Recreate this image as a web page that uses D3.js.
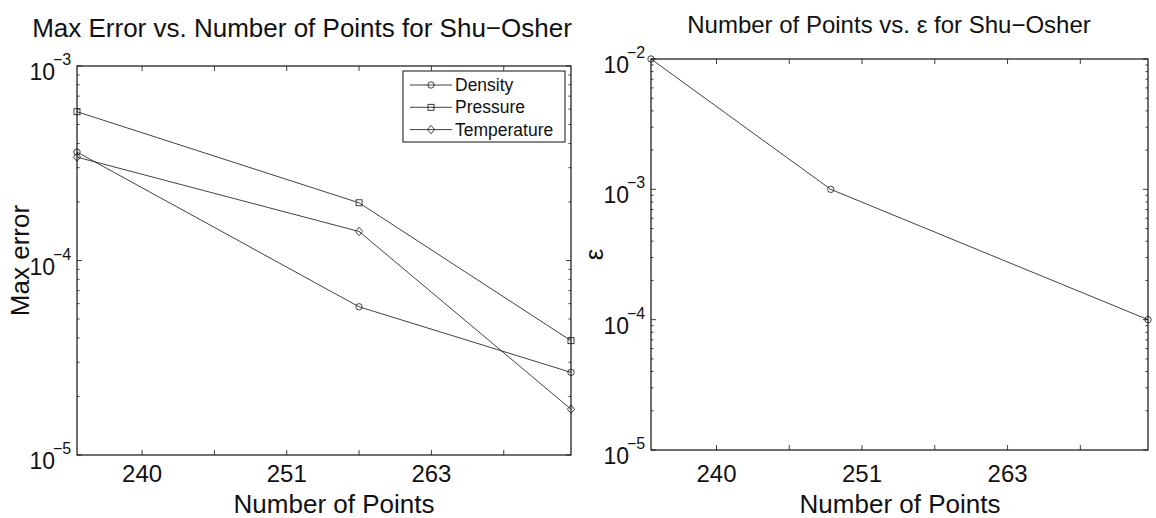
<!DOCTYPE html>
<html>
<head>
<meta charset="utf-8">
<script src="https://cdn.jsdelivr.net/npm/d3@7"></script>
<style>
  body { margin: 0; background: #fff; }
  text { font-family: "Liberation Sans", Arial, Helvetica, sans-serif; fill: #111; }
</style>
</head>
<body>
<svg id="fig" width="1156" height="518"></svg>
<script>
// x positions are tick-slot units; the axis carries custom labels
const tickSlots  = [1, 2, 3, 4, 5, 6];
const tickLabels = ["240", "", "251", "", "263", ""];

// left panel: max error per variable
const errX        = [0.1, 4.0, 6.93];
const density     = [3.61e-4, 5.78e-5, 2.66e-5];
const pressure    = [5.82e-4, 1.98e-4, 3.87e-5];
const temperature = [3.40e-4, 1.41e-4, 1.72e-5];
const seriesNames = ["Density", "Pressure", "Temperature"];
const seriesMarks = ["circle", "square", "diamond"];

// right panel: epsilon per resolution
const epsX    = [0.1, 2.57, 6.93];
const epsilon = [1e-2, 1e-3, 1e-4];

const svg = d3.select("#fig");
const ink = "#111";

function logTicks(lo, hi) {
  const major = [], minor = [];
  for (let e = Math.round(Math.log10(lo)); e <= Math.round(Math.log10(hi)); e++) {
    major.push(e);
    if (Math.pow(10, e) < hi) for (let k = 2; k <= 9; k++) minor.push(k * Math.pow(10, e));
  }
  return { major, minor };
}

function marker(g, kind, x, y) {
  if (kind === "circle") {
    g.append("circle").attr("cx", x).attr("cy", y).attr("r", 3.2)
      .attr("fill", "none").attr("stroke", ink).attr("stroke-width", 0.8);
  } else if (kind === "square") {
    g.append("rect").attr("x", x - 3).attr("y", y - 3).attr("width", 6).attr("height", 6)
      .attr("fill", "none").attr("stroke", ink).attr("stroke-width", 0.8);
  } else {
    g.append("path").attr("d", `M${x},${y - 4.2}L${x + 3.6},${y}L${x},${y + 4.2}L${x - 3.6},${y}Z`)
      .attr("fill", "none").attr("stroke", ink).attr("stroke-width", 0.8);
  }
}

function panel(opt) {
  const { box, yDomain, title, titleSize, titleX, titleY, xlabelX, ylabel, ylabelX, ylabelSize, lines } = opt;
  const g = svg.append("g");
  const x = d3.scaleLinear().domain([0.1, 6.93]).range([box.x0, box.x1]);
  const y = d3.scaleLog().domain(yDomain).range([box.y1, box.y0]);

  // data lines
  lines.forEach(s => {
    const pts = s.x.map((xv, i) => [x(xv), y(s.y[i])]);
    g.append("path").attr("d", d3.line()(pts))
      .attr("fill", "none").attr("stroke", ink).attr("stroke-width", 0.8);
    pts.forEach(p => marker(g, s.mark, p[0], p[1]));
  });

  // box
  g.append("rect").attr("x", box.x0).attr("y", box.y0)
    .attr("width", box.x1 - box.x0).attr("height", box.y1 - box.y0)
    .attr("fill", "none").attr("stroke", ink).attr("stroke-width", 1.2);

  // x ticks (bottom and top, inward)
  const tl = 5;
  tickSlots.forEach((t, i) => {
    const px = x(t);
    g.append("line").attr("x1", px).attr("x2", px).attr("y1", box.y1).attr("y2", box.y1 - tl)
      .attr("stroke", ink).attr("stroke-width", 0.8);
    g.append("line").attr("x1", px).attr("x2", px).attr("y1", box.y0).attr("y2", box.y0 + tl)
      .attr("stroke", ink).attr("stroke-width", 0.8);
    if (tickLabels[i]) {
      g.append("text").attr("x", px).attr("y", 482)
        .attr("text-anchor", "middle").attr("font-size", 24).text(tickLabels[i]);
    }
  });

  // log y ticks
  const lt = logTicks(yDomain[0], yDomain[1]);
  lt.minor.forEach(v => {
    const py = y(v);
    g.append("line").attr("x1", box.x0).attr("x2", box.x0 + 2.5).attr("y1", py).attr("y2", py)
      .attr("stroke", ink).attr("stroke-width", 0.8);
    g.append("line").attr("x1", box.x1).attr("x2", box.x1 - 2.5).attr("y1", py).attr("y2", py)
      .attr("stroke", ink).attr("stroke-width", 0.8);
  });
  lt.major.forEach(e => {
    const py = y(Math.pow(10, e));
    g.append("line").attr("x1", box.x0).attr("x2", box.x0 + tl).attr("y1", py).attr("y2", py)
      .attr("stroke", ink).attr("stroke-width", 0.8);
    g.append("line").attr("x1", box.x1).attr("x2", box.x1 - tl).attr("y1", py).attr("y2", py)
      .attr("stroke", ink).attr("stroke-width", 0.8);
    g.append("text").attr("x", box.x0 - 22).attr("y", py + 14).attr("font-size", 23)
      .attr("text-anchor", "end").text("10");
    g.append("text").attr("x", box.x0 - 24).attr("y", py - 1).attr("font-size", 16)
      .text("\u2212" + Math.abs(e));
  });

  // labels
  g.append("text").attr("x", titleX).attr("y", titleY)
    .attr("text-anchor", "middle").attr("font-size", titleSize).text(title);
  g.append("text").attr("x", xlabelX).attr("y", 513)
    .attr("text-anchor", "middle").attr("font-size", 26).text("Number of Points");
  g.append("text")
    .attr("transform", `translate(${ylabelX},${(box.y0 + box.y1) / 2}) rotate(-90)`)
    .attr("text-anchor", "middle").attr("font-size", ylabelSize).text(ylabel);

  return { g, x, y };
}

// left panel
const L = panel({
  box: { x0: 77, x1: 571, y0: 66, y1: 455 },
  yDomain: [1e-5, 1e-3],
  title: "Max Error vs. Number of Points for Shu\u2212Osher",
  titleSize: 26, titleX: 302, titleY: 37,
  xlabelX: 334,
  ylabel: "Max error", ylabelX: 29, ylabelSize: 26,
  lines: [
    { x: errX, y: density, mark: seriesMarks[0] },
    { x: errX, y: pressure, mark: seriesMarks[1] },
    { x: errX, y: temperature, mark: seriesMarks[2] }
  ]
});

// legend
const lg = L.g.append("g");
const lb = { x: 403, y: 71, w: 162, h: 71 };
lg.append("rect").attr("x", lb.x).attr("y", lb.y).attr("width", lb.w).attr("height", lb.h)
  .attr("fill", "#fff").attr("stroke", ink).attr("stroke-width", 1);
seriesNames.forEach((name, i) => {
  const cy = lb.y + 14 + i * 22.3;
  lg.append("line").attr("x1", lb.x + 7).attr("x2", lb.x + 49).attr("y1", cy).attr("y2", cy)
    .attr("stroke", ink).attr("stroke-width", 0.8);
  marker(lg, seriesMarks[i], lb.x + 28, cy);
  lg.append("text").attr("x", lb.x + 52).attr("y", cy + 6).attr("font-size", 17.5).text(name);
});

// right panel
panel({
  box: { x0: 651, x1: 1148, y0: 59, y1: 450 },
  yDomain: [1e-5, 1e-2],
  title: "Number of Points vs. \u03b5 for Shu\u2212Osher",
  titleSize: 24, titleX: 889, titleY: 33,
  xlabelX: 900,
  ylabel: "\u03b5", ylabelX: 603, ylabelSize: 26,
  lines: [{ x: epsX, y: epsilon, mark: "circle" }]
});
</script>
</body>
</html>
